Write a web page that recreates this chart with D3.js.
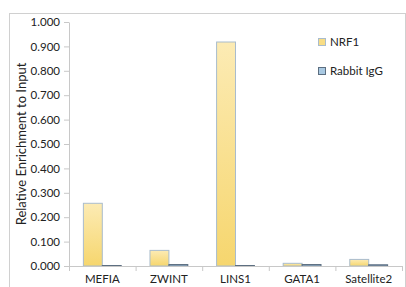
<!DOCTYPE html>
<html>
<head>
<meta charset="utf-8">
<script src="https://cdn.jsdelivr.net/npm/d3@7"></script>
<style>
body { margin: 0; background: #fff; }
text { font-family: Lato, "Liberation Sans", sans-serif; fill: #222; }
</style>
</head>
<body>
<div id="chart"></div>
<script>
// chart data
var categories = ["MEFIA", "ZWINT", "LINS1", "GATA1", "Satellite2"];
var seriesNames = ["NRF1", "Rabbit IgG"];
var nrf1 = [0.257, 0.064, 0.918, 0.011, 0.027];
var rabbitIgG = [0.002, 0.006, 0.002, 0.006, 0.005];
var yTicks = [0, 0.1, 0.2, 0.3, 0.4, 0.5, 0.6, 0.7, 0.8, 0.9, 1.0];

var width = 406, height = 287;
var plotLeft = 69, plotRight = 402, plotTop = 22, plotBottom = 266;

var svg = d3.select("#chart").append("svg").attr("width", width).attr("height", height);

// outer frame
svg.append("rect").attr("x", 9.5).attr("y", 13.5).attr("width", 396).attr("height", 290)
  .attr("fill", "none").attr("stroke", "#d0d0d0");

var defs = svg.append("defs");
var grad = defs.append("linearGradient").attr("id", "gy").attr("x1", 0).attr("y1", 0).attr("x2", 0).attr("y2", 1);
grad.append("stop").attr("offset", "0%").attr("stop-color", "#fcebb4");
grad.append("stop").attr("offset", "100%").attr("stop-color", "#f6d66e");

var x = d3.scaleBand().domain(categories).range([plotLeft, plotRight]).paddingInner(0).paddingOuter(0);
var x1 = d3.scaleBand().domain(seriesNames).range([0, x.bandwidth()]).paddingInner(0).paddingOuter(0.76);
var y = d3.scaleLinear().domain([0, 1]).range([plotBottom, plotTop]);

// y axis
var yAxis = svg.append("g").attr("transform", "translate(" + plotLeft + ",0)")
  .call(d3.axisLeft(y).tickValues(yTicks).tickFormat(d3.format(".3f")).tickSize(5).tickSizeOuter(0));
yAxis.select(".domain").attr("stroke", "#c8c8c8");
yAxis.selectAll(".tick line").attr("stroke", "#c8c8c8");
yAxis.selectAll("text").attr("font-size", 11.5).attr("fill", "#222").attr("dx", -1)
  .style("font-family", "Lato, 'Liberation Sans', sans-serif");

// bars
var groups = svg.selectAll(".grp").data(categories).enter().append("g")
  .attr("transform", function(d) { return "translate(" + x(d) + ",0)"; });

groups.append("rect")
  .attr("x", x1("NRF1"))
  .attr("y", function(d, i) { return y(nrf1[i]); })
  .attr("width", x1.bandwidth())
  .attr("height", function(d, i) { return y(0) - y(nrf1[i]); })
  .attr("fill", "url(#gy)").attr("stroke", "#a9bccd").attr("stroke-width", 1);

groups.append("rect")
  .attr("x", x1("Rabbit IgG"))
  .attr("y", function(d, i) { return y(rabbitIgG[i]); })
  .attr("width", x1.bandwidth())
  .attr("height", function(d, i) { return y(0) - y(rabbitIgG[i]); })
  .attr("fill", "#a9c9e2").attr("stroke", "#5c6e80").attr("stroke-width", 1);

// x axis
var xAxis = svg.append("g").attr("transform", "translate(0," + plotBottom + ")")
  .call(d3.axisBottom(x).tickSize(0).tickSizeOuter(0));
xAxis.select(".domain").attr("stroke", "#c8c8c8");
xAxis.selectAll("text").attr("font-size", 11.5).attr("fill", "#222").attr("dy", 14)
  .style("font-family", "Lato, 'Liberation Sans', sans-serif");
var bounds = categories.map(function(d) { return x(d); }).concat([plotRight]);
svg.selectAll(".xtick").data(bounds).enter().append("line")
  .attr("x1", function(d) { return d + 0.5; }).attr("x2", function(d) { return d + 0.5; })
  .attr("y1", plotBottom).attr("y2", plotBottom + 5).attr("stroke", "#c8c8c8");

// y label
svg.append("text").attr("transform", "translate(26," + ((plotTop + plotBottom) / 2) + ") rotate(-90)")
  .attr("text-anchor", "middle").attr("font-size", 13).text("Relative Enrichment to Input");

// legend
var legColors = [{ fill: "#f8dd85", stroke: "#a9bccd" }, { fill: "#a9c9e2", stroke: "#5c6e80" }];
var leg = svg.selectAll(".leg").data(seriesNames).enter().append("g")
  .attr("transform", function(d, i) { return "translate(318," + (38 + i * 29) + ")"; });
leg.append("rect").attr("x", 0.5).attr("y", 0.5).attr("width", 7).attr("height", 7)
  .attr("fill", function(d, i) { return legColors[i].fill; })
  .attr("stroke", function(d, i) { return legColors[i].stroke; });
leg.append("text").attr("x", 12).attr("y", 7.5).attr("font-size", 11.5).text(function(d) { return d; });
</script>
</body>
</html>
